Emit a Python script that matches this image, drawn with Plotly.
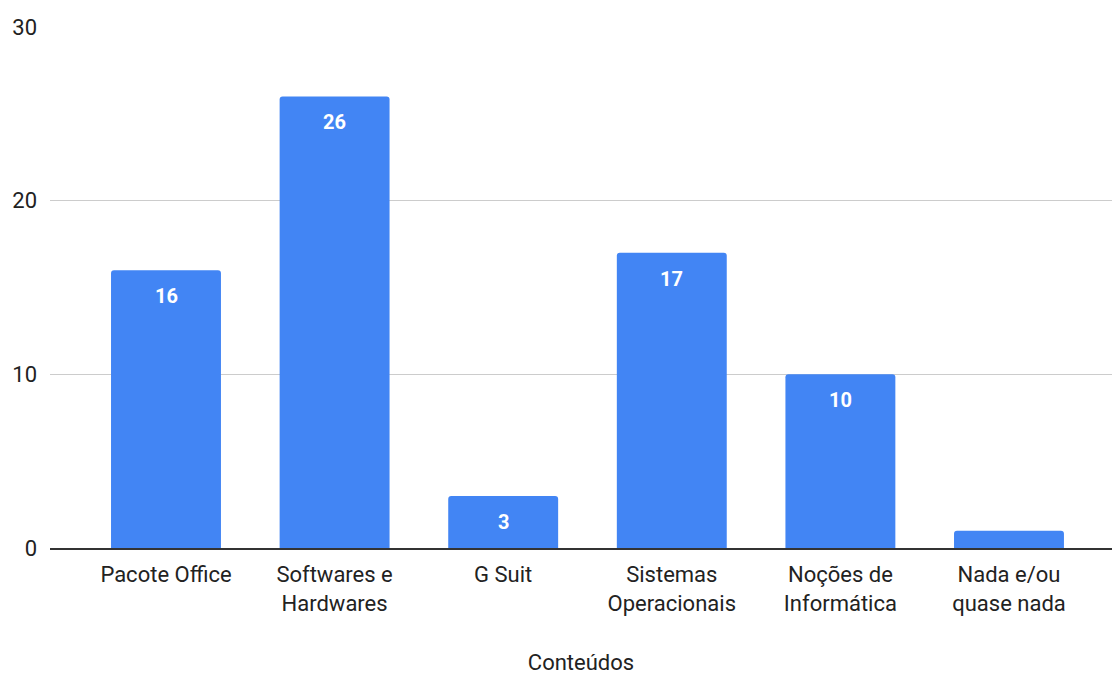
import plotly.graph_objects as go

# Conteúdos de informática citados
categorias = ["Pacote Office", "Softwares e<br>Hardwares", "G Suit",
              "Sistemas<br>Operacionais", "Noções de<br>Informática",
              "Nada e/ou<br>quase nada"]
valores = [16, 26, 3, 17, 10, 1]
y_ticks = [0, 10, 20, 30]

AZUL = "#4285F4"
FONTE = "Roboto, Arial, sans-serif"
TEXTO = "#222222"

fig = go.Figure()
fig.add_trace(go.Bar(
    x=list(range(len(categorias))),
    y=valores,
    marker=dict(color=AZUL, cornerradius=3, line=dict(width=0)),
    hoverinfo="skip",
))

# rótulos de valor dentro do topo das barras (omitidos quando a barra é baixa demais)
for i, v in enumerate(valores):
    if v >= 2:
        fig.add_annotation(
            x=i, y=v, text=f"<b>{v}</b>", showarrow=False,
            yanchor="middle", yshift=-26,
            font=dict(family=FONTE, size=20, color="white"),
        )

fig.update_layout(
    width=1112, height=675,
    margin=dict(l=50, r=0, t=27, b=127),
    paper_bgcolor="white", plot_bgcolor="white",
    bargap=0.348,
    showlegend=False,
    font=dict(family=FONTE, size=22, color=TEXTO),
)
fig.update_xaxes(
    tickmode="array", tickvals=list(range(len(categorias))), ticktext=categorias,
    range=[-0.688, 5.611],
    showgrid=False, zeroline=False,
    showline=True, linecolor="#333333", linewidth=1.5,
    ticks="", ticklabelstandoff=6,
    tickfont=dict(family=FONTE, size=22, color=TEXTO),
    title=dict(text="Conteúdos", font=dict(family=FONTE, size=22, color=TEXTO),
               standoff=42),
)
fig.update_yaxes(
    range=[0, 30], tickvals=y_ticks,
    showgrid=True, gridcolor="#cccccc", gridwidth=1,
    zeroline=False, showline=False, ticks="",
    ticklabelstandoff=12,
    tickfont=dict(family=FONTE, size=22, color=TEXTO),
)

fig.write_html("out.html")
